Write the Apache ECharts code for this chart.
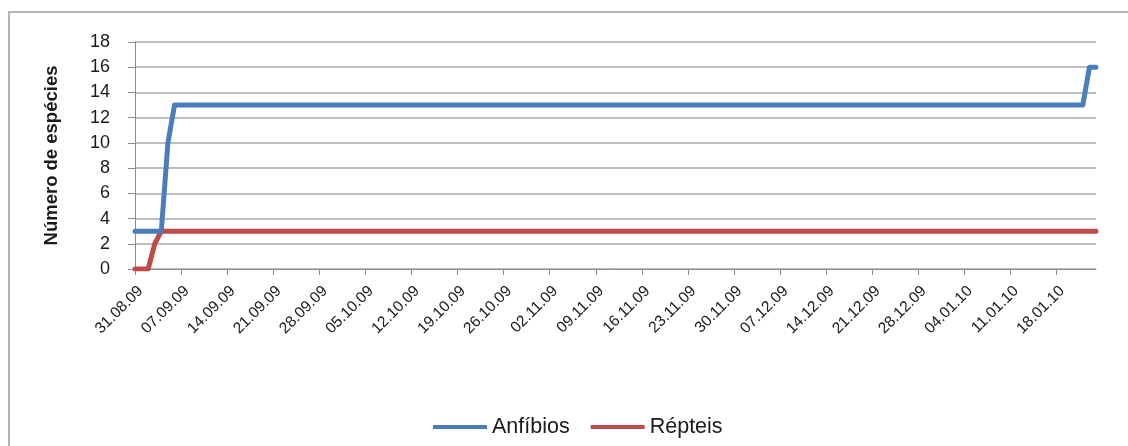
<!DOCTYPE html>
<html>
<head>
<meta charset="utf-8">
<script src="https://cdn.jsdelivr.net/npm/echarts@6/dist/echarts.min.js"></script>
<style>
html,body{margin:0;padding:0;background:#fff;}
#c{width:1128px;height:446px;}
</style>
</head>
<body>
<div id="c"></div>
<script>
// Day index counted from 31.08.09 (axis runs to 24.01.10 = day 146)
const days = [0, 1, 2, 3, 4, 5, 6, 144, 145, 146];
const anfibios = [3, 3, 3, 3, 3, 10, 13, 13, 16, 16];
const repteis = [0, 0, 0, 2, 3, 3, 3, 3, 3, 3];
// Weekly tick labels (every 7 days)
const tickLabels = ['31.08.09','07.09.09','14.09.09','21.09.09','28.09.09','05.10.09','12.10.09','19.10.09','26.10.09','02.11.09','09.11.09','16.11.09','23.11.09','30.11.09','07.12.09','14.12.09','21.12.09','28.12.09','04.01.10','11.01.10','18.01.10'];
const seriesNames = ['Anfíbios', 'Répteis'];
const yName = 'Número de espécies';

const pair = (vals) => days.map((d, i) => [d, vals[i]]);

const chart = echarts.init(document.getElementById('c'), null, {renderer: 'canvas'});
chart.setOption({
  animation: false,
  backgroundColor: '#fff',
  textStyle: {fontFamily: 'Liberation Sans, Arial, sans-serif'},
  graphic: [{
    type: 'rect', silent: true, z: -1,
    shape: {x: 9, y: 12, width: 1200, height: 500},
    style: {fill: 'none', stroke: '#b4b4b4', lineWidth: 2}
  }],
  grid: {left: 135, top: 42, width: 961, height: 227, containLabel: false},
  legend: {
    top: 411, left: 428,
    itemWidth: 54, itemHeight: 4, itemGap: 21,
    icon: 'rect',
    textStyle: {fontSize: 21.5, color: '#1a1a1a', fontFamily: 'Liberation Sans, Arial, sans-serif'},
    data: seriesNames
  },
  xAxis: {
    type: 'value', min: 0, max: 146, interval: 7,
    axisLine: {show: true, lineStyle: {color: '#8c8c8c', width: 1}},
    axisTick: {show: true, length: 6, inside: false, lineStyle: {color: '#8c8c8c'}},
    splitLine: {show: false},
    axisLabel: {
      rotate: 45, margin: 14, fontSize: 15.5, color: '#1a1a1a',
      verticalAlign: 'top',
      showMaxLabel: false,
      formatter: (v) => tickLabels[Math.round(v / 7)] || ''
    }
  },
  yAxis: {
    type: 'value', min: 0, max: 18, interval: 2,
    name: yName, nameLocation: 'middle', nameGap: 74,
    nameTextStyle: {fontSize: 18.5, fontWeight: 'bold', color: '#1a1a1a'},
    axisLine: {show: true, lineStyle: {color: '#8c8c8c', width: 1}},
    axisTick: {show: true, length: 7, lineStyle: {color: '#8c8c8c'}},
    splitLine: {show: true, lineStyle: {color: '#a8a8a8', width: 1.5}},
    axisLabel: {fontSize: 18, color: '#1a1a1a', margin: 25}
  },
  series: [
    {
      name: seriesNames[0], type: 'line', data: pair(anfibios),
      showSymbol: false, symbol: 'none',
      lineStyle: {color: '#4a7ebb', width: 5, cap: 'round', join: 'round'},
      itemStyle: {color: '#4a7ebb'}, z: 3
    },
    {
      name: seriesNames[1], type: 'line', data: pair(repteis),
      showSymbol: false, symbol: 'none',
      lineStyle: {color: '#be4b48', width: 5, cap: 'round', join: 'round'},
      itemStyle: {color: '#be4b48'}, z: 2
    }
  ]
});
</script>
</body>
</html>
